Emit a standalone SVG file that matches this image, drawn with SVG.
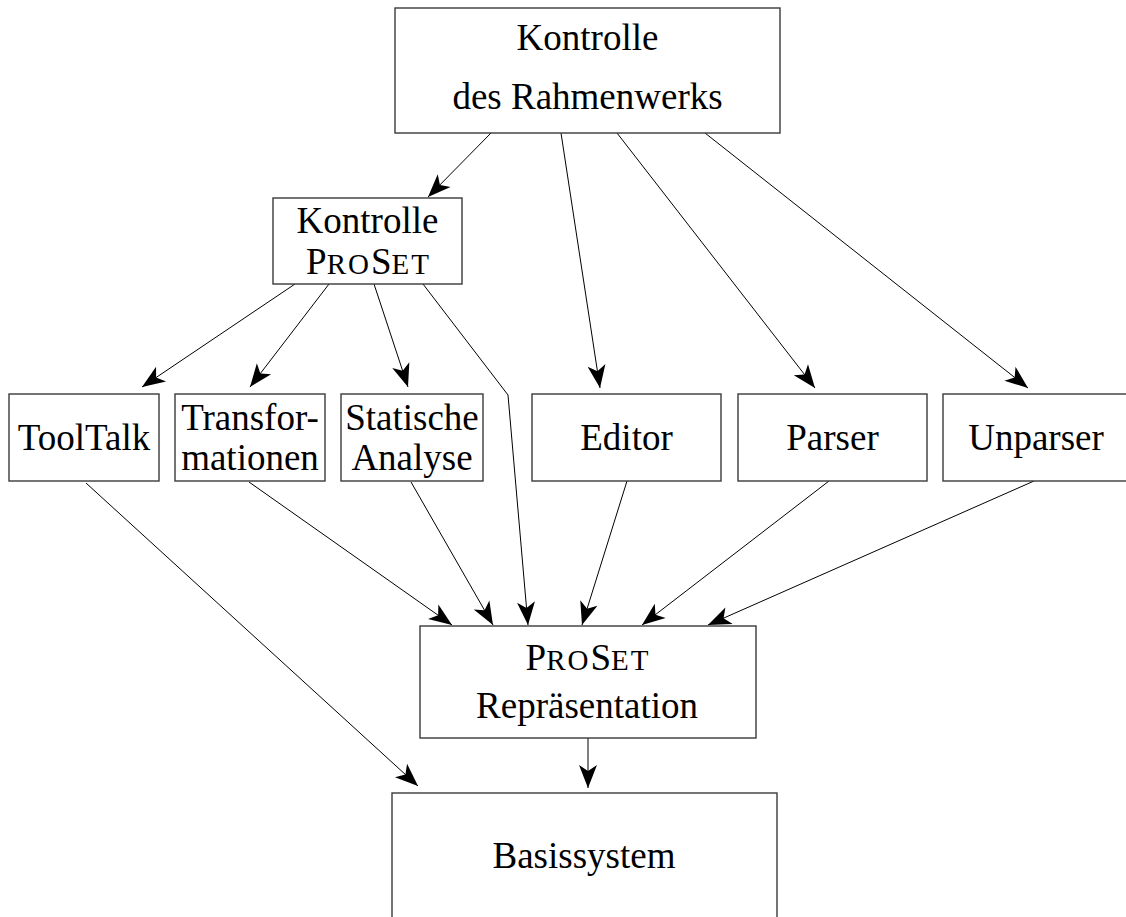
<svg xmlns="http://www.w3.org/2000/svg" width="1126" height="917" viewBox="0 0 1126 917">
  <style>
    .box { fill: #ffffff; stroke: #3a3a3a; stroke-width: 1.4; }
    .lbl { font-family: 'Liberation Serif', 'Times New Roman', serif; font-size: 37px; fill: #000; text-anchor: middle; }
    .sc { font-size: 29px; letter-spacing: 2px; }
    .edge { fill: none; stroke: #000; stroke-width: 1; marker-end: url(#arrow); }
  </style>
  <defs>
    <marker id="arrow" markerUnits="userSpaceOnUse" markerWidth="26" markerHeight="22" viewBox="-24 -11 26 22" refX="0" refY="0" orient="auto">
      <path d="M0,0 L-23,-9 L-17,0 L-23,9 Z" fill="#000"/>
    </marker>
  </defs>

  <!-- connectors -->
  <g id="connectors">
    <line class="edge" x1="491" y1="133" x2="428" y2="197"/>
    <line class="edge" x1="561" y1="133" x2="600" y2="388"/>
    <line class="edge" x1="617" y1="133" x2="815" y2="388"/>
    <line class="edge" x1="705" y1="133" x2="1028" y2="388"/>

    <line class="edge" x1="295" y1="284" x2="142" y2="387"/>
    <line class="edge" x1="329" y1="284" x2="250" y2="387"/>
    <line class="edge" x1="374" y1="284" x2="408" y2="387"/>
    <polyline class="edge" points="423,284 508,395 528,625"/>

    <line class="edge" x1="249" y1="482" x2="452" y2="625"/>
    <line class="edge" x1="411" y1="482" x2="493" y2="625"/>
    <line class="edge" x1="627" y1="481" x2="582" y2="625"/>
    <line class="edge" x1="829" y1="481" x2="642" y2="625"/>
    <line class="edge" x1="1034" y1="481" x2="708" y2="625"/>

    <line class="edge" x1="86" y1="483" x2="418" y2="786"/>
    <line class="edge" x1="588" y1="738" x2="588" y2="788"/>
  </g>

  <!-- nodes -->
  <g id="kontrolle-rahmenwerk">
    <rect class="box" x="395" y="8" width="385" height="125"/>
    <text class="lbl" x="587.5" y="50">Kontrolle</text>
    <text class="lbl" x="587.5" y="109">des Rahmenwerks</text>
  </g>

  <g id="kontrolle-proset">
    <rect class="box" x="273" y="198" width="189" height="86"/>
    <text class="lbl" x="367.5" y="233">Kontrolle</text>
    <text class="lbl" x="368.5" y="274">P<tspan class="sc">RO</tspan>S<tspan class="sc">ET</tspan></text>
  </g>

  <g id="tooltalk">
    <rect class="box" x="9" y="394" width="150" height="87"/>
    <text class="lbl" x="84" y="450">ToolTalk</text>
  </g>

  <g id="transformationen">
    <rect class="box" x="175" y="394" width="150" height="87"/>
    <text class="lbl" x="250" y="430">Transfor-</text>
    <text class="lbl" x="250" y="470">mationen</text>
  </g>

  <g id="statische-analyse">
    <rect class="box" x="341" y="394" width="142" height="87"/>
    <text class="lbl" x="412" y="430">Statische</text>
    <text class="lbl" x="412" y="470">Analyse</text>
  </g>

  <g id="editor">
    <rect class="box" x="532" y="394" width="189" height="87"/>
    <text class="lbl" x="626.5" y="450">Editor</text>
  </g>

  <g id="parser">
    <rect class="box" x="738" y="394" width="189" height="87"/>
    <text class="lbl" x="832.5" y="450">Parser</text>
  </g>

  <g id="unparser">
    <rect class="box" x="943" y="394" width="188" height="87"/>
    <text class="lbl" x="1036" y="450">Unparser</text>
  </g>

  <g id="proset-repraesentation">
    <rect class="box" x="420" y="626" width="336" height="112"/>
    <text class="lbl" x="588" y="670">P<tspan class="sc">RO</tspan>S<tspan class="sc">ET</tspan></text>
    <text class="lbl" x="587" y="718">Repräsentation</text>
  </g>

  <g id="basissystem">
    <rect class="box" x="392" y="793" width="385" height="140"/>
    <text class="lbl" x="584" y="868">Basissystem</text>
  </g>
</svg>
